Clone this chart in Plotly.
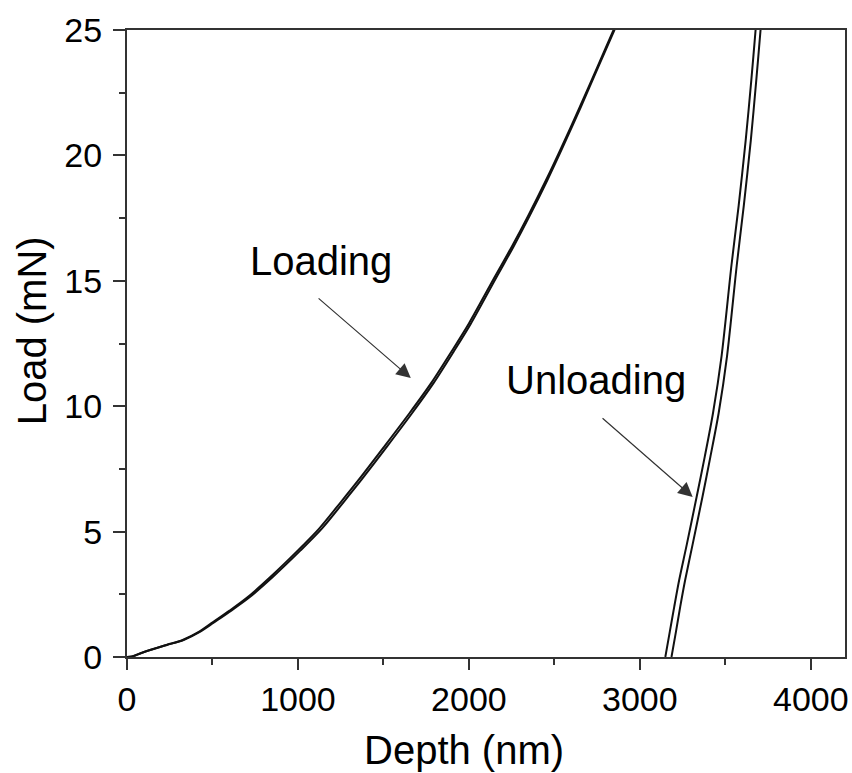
import plotly.graph_objects as go

# Loading curves (two tests)
load_depth_1 = [0, 30, 80, 134, 230, 326, 420, 501, 600, 699, 840, 1000, 1124, 1250, 1357, 1500, 1650, 1782, 1900, 2000, 2155, 2250, 2347, 2450, 2540, 2650, 2750, 2843, 2950]
load_force_1 = [0, 0.02, 0.15, 0.28, 0.48, 0.68, 1.0, 1.38, 1.85, 2.35, 3.2, 4.25, 5.12, 6.17, 7.08, 8.35, 9.7, 10.95, 12.2, 13.3, 15.2, 16.35, 17.6, 19.0, 20.3, 21.95, 23.5, 24.95, 26.6]
load_depth_2 = [0, 30, 80, 136, 234, 331, 426, 509, 610, 711, 854, 1015, 1140, 1266, 1373, 1516, 1665, 1796, 1913, 2012, 2166, 2260, 2356, 2458, 2547, 2656, 2755, 2848, 2955]
load_force_2 = [0, 0.02, 0.15, 0.28, 0.48, 0.68, 1.0, 1.38, 1.85, 2.35, 3.2, 4.25, 5.12, 6.17, 7.08, 8.35, 9.7, 10.95, 12.2, 13.3, 15.2, 16.35, 17.6, 19.0, 20.3, 21.95, 23.5, 24.95, 26.6]

# Unloading curves (two tests)
unload_force = [0, 1.0, 2.0, 3.07, 4.5, 6.38, 8.0, 9.73, 12.0, 15.63, 18.0, 20.6, 23.0, 25.0, 26.6]
unload_depth_1 = [3149, 3175, 3201, 3230, 3275, 3332, 3380, 3428, 3478, 3536, 3578, 3619, 3652, 3677, 3696]
unload_depth_2 = [3185, 3211, 3236, 3265, 3309, 3366, 3413, 3461, 3510, 3567, 3608, 3649, 3681, 3706, 3725]

x_ticks = [0, 1000, 2000, 3000, 4000]
y_ticks = [0, 5, 10, 15, 20, 25]

FONT = "Liberation Sans, Arial, sans-serif"
INK = "#111111"
AXIS = "#333333"

fig = go.Figure()
for xs, ys in [(load_depth_1, load_force_1), (load_depth_2, load_force_2),
               (unload_depth_1, unload_force), (unload_depth_2, unload_force)]:
    fig.add_trace(go.Scatter(x=xs, y=ys, mode="lines", line=dict(color=INK, width=2, shape="spline", smoothing=0.8),
                             showlegend=False, hoverinfo="skip"))

fig.update_layout(
    width=852, height=773,
    margin=dict(l=127, r=4, t=30, b=116),
    paper_bgcolor="white", plot_bgcolor="white",
    font=dict(family=FONT, color="black"),
    showlegend=False,
)
fig.update_xaxes(
    range=[0, 4200], tickvals=x_ticks, ticktext=[str(v) for v in x_ticks],
    ticks="outside", ticklen=11, tickwidth=2, tickcolor=AXIS,
    minor=dict(dtick=500, ticks="outside", ticklen=6, tickwidth=2, tickcolor=AXIS),
    showline=True, linewidth=2, linecolor=AXIS, mirror=True,
    showgrid=False, zeroline=False,
    tickfont=dict(size=34, family=FONT, color="black"),
)
fig.update_yaxes(
    range=[0, 25], tickvals=y_ticks, ticktext=[str(v) for v in y_ticks],
    ticks="outside", ticklen=12, tickwidth=2, tickcolor=AXIS,
    minor=dict(dtick=2.5, ticks="outside", ticklen=6, tickwidth=2, tickcolor=AXIS),
    showline=True, linewidth=2, linecolor=AXIS, mirror=True,
    showgrid=False, zeroline=False,
    tickfont=dict(size=34, family=FONT, color="black"),
    ticklabelstandoff=4,
)

# Axis titles
fig.add_annotation(x=0.47, y=-0.148, xref="paper", yref="paper", text="Depth (nm)", showarrow=False,
                   xanchor="center", yanchor="middle", font=dict(size=40, family=FONT, color="black"))
fig.add_annotation(x=-0.1318, y=0.52, xref="paper", yref="paper", text="Load (mN)", showarrow=False,
                   textangle=-90, xanchor="center", yanchor="middle", font=dict(size=40, family=FONT, color="black"))

fig.add_annotation(x=1136, y=15.79, text="Loading", showarrow=False,
                   font=dict(size=40, family=FONT, color="black"))
fig.add_annotation(x=2744, y=11.04, text="Unloading", showarrow=False,
                   font=dict(size=40, family=FONT, color="black"))
fig.add_annotation(x=1660, y=11.12, ax=1112, ay=14.35, axref="x", ayref="y",
                   text="", showarrow=True, arrowhead=2, arrowsize=2.4, arrowwidth=1.2, arrowcolor="#333333")
fig.add_annotation(x=3309, y=6.38, ax=2773, ay=9.57, axref="x", ayref="y",
                   text="", showarrow=True, arrowhead=2, arrowsize=2.4, arrowwidth=1.2, arrowcolor="#333333")

fig.write_html("out.html")
